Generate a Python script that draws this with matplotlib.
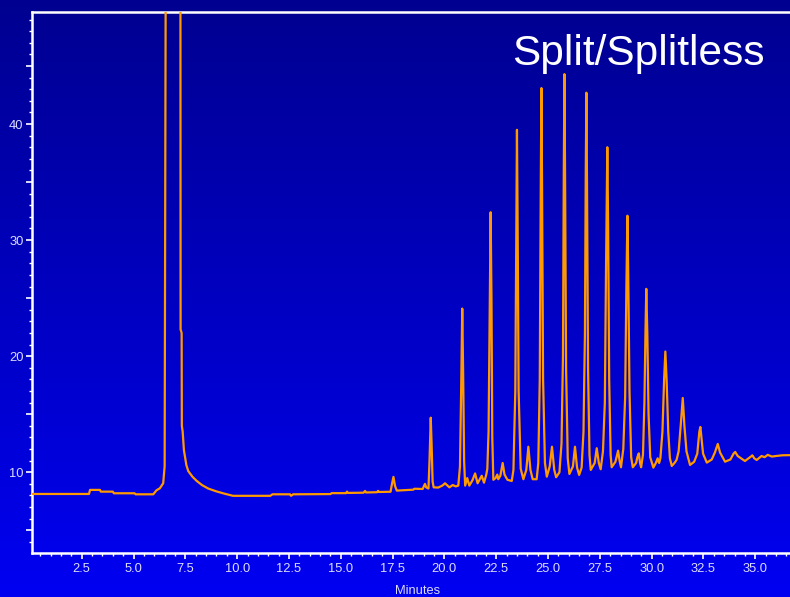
import matplotlib
matplotlib.use("Agg")
import matplotlib.pyplot as plt
from matplotlib.ticker import MultipleLocator, FuncFormatter
from matplotlib.colors import LinearSegmentedColormap
import numpy as np

# chromatogram trace (retention time in minutes, detector signal)
minutes = [
    0.1, 2.85, 2.9, 3.38, 3.42, 4.0, 4.05, 5.05, 5.1, 5.95, 6.11, 6.27, 6.43, 6.5, 6.56,
    7.26, 7.27, 7.32, 7.33, 7.37, 7.43, 7.55, 7.64, 7.85, 8.05, 8.3, 8.6, 9.0, 9.4, 9.8,
    11.6, 11.7, 12.55, 12.6, 12.7, 14.5, 14.56, 15.25, 15.3, 15.35, 16.1, 16.17, 16.22,
    16.75, 16.8, 16.85, 17.4, 17.47, 17.54, 17.62, 17.7, 18.5, 18.55, 18.95, 19.06, 19.12,
    19.23, 19.28, 19.34, 19.38, 19.43, 19.48, 19.7, 19.9, 20.03, 20.15, 20.24, 20.4, 20.55,
    20.67, 20.75, 20.81, 20.86, 20.9, 20.95, 21.0, 21.1, 21.2, 21.35, 21.48, 21.6, 21.8,
    21.91, 22.02, 22.07, 22.13, 22.19, 22.23, 22.27, 22.31, 22.36, 22.47, 22.55, 22.6,
    22.7, 22.81, 22.9, 23.04, 23.25, 23.33, 23.42, 23.47, 23.5, 23.53, 23.58, 23.68,
    23.81, 23.95, 24.05, 24.15, 24.26, 24.45, 24.53, 24.6, 24.65, 24.68, 24.71, 24.76,
    24.85, 24.94, 25.08, 25.19, 25.3, 25.39, 25.55, 25.65, 25.72, 25.76, 25.79, 25.82,
    25.87, 25.95, 26.03, 26.2, 26.3, 26.4, 26.5, 26.62, 26.71, 26.78, 26.82, 26.85,
    26.88, 26.93, 27.0, 27.06, 27.25, 27.35, 27.45, 27.54, 27.65, 27.74, 27.8, 27.86,
    27.9, 27.95, 28.02, 28.07, 28.25, 28.33, 28.38, 28.45, 28.52, 28.63, 28.72, 28.78,
    28.83, 28.87, 28.93, 29.01, 29.09, 29.25, 29.31, 29.38, 29.44, 29.49, 29.58, 29.65,
    29.7, 29.74, 29.79, 29.85, 29.93, 30.08, 30.2, 30.29, 30.36, 30.42, 30.52, 30.6,
    30.66, 30.72, 30.8, 30.88, 30.97, 31.1, 31.2, 31.3, 31.4, 31.5, 31.58, 31.68, 31.85,
    32.05, 32.2, 32.3, 32.35, 32.4, 32.48, 32.66, 32.9, 33.05, 33.19, 33.3, 33.54, 33.8,
    33.95, 34.03, 34.15, 34.5, 34.75, 34.86, 34.95, 35.07, 35.3, 35.45, 35.6, 35.8, 36.0,
    36.3, 37.4,
]
signal = [
    8.13, 8.13, 8.48, 8.48, 8.33, 8.33, 8.19, 8.19, 8.1, 8.1, 8.45, 8.62, 9.05, 10.5, 60,
    60, 22.3, 22.0, 14.0, 13.5, 11.9, 10.6, 10.1, 9.6, 9.25, 8.9, 8.6, 8.35, 8.15, 7.97,
    7.97, 8.1, 8.1, 7.97, 8.1, 8.12, 8.2, 8.2, 8.33, 8.22, 8.24, 8.39, 8.26,
    8.28, 8.4, 8.3, 8.32, 9.0, 9.6, 8.8, 8.42, 8.5, 8.58, 8.56, 9.0, 8.7,
    8.6, 11.0, 14.7, 12.5, 9.2, 8.7, 8.68, 8.85, 9.05, 8.85, 8.7, 8.9, 8.78,
    8.85, 10.5, 17.5, 24.1, 19.0, 11.0, 8.85, 9.5, 8.85, 9.3, 9.9, 9.05, 9.7,
    9.1, 9.8, 10.3, 13.5, 25.0, 32.4, 25.0, 13.0, 9.35, 9.5, 9.8, 9.4,
    9.7, 10.8, 9.8, 9.35, 9.25, 10.2, 17.0, 32.0, 39.5, 32.0, 17.0, 10.3,
    9.4, 10.2, 12.2, 10.2, 9.4, 9.4, 10.8, 18.0, 35.0, 43.1, 35.0, 18.0,
    10.8, 9.62, 10.5, 12.2, 10.2, 9.57, 10.0, 12.5, 20.0, 36.0, 44.3, 36.0,
    19.0, 11.2, 9.85, 10.5, 12.2, 10.4, 9.77, 10.4, 13.5, 22.0, 36.0, 42.7,
    35.0, 19.0, 11.5, 10.2, 10.8, 12.07, 10.8, 10.26, 11.8, 16.0, 28.0, 38.0,
    31.0, 18.0, 11.5, 10.43, 10.9, 11.5, 11.86, 11.0, 10.43, 12.0, 16.5, 26.0,
    32.1, 27.0, 17.0, 11.3, 10.43, 10.8, 11.3, 11.63, 10.8, 10.43, 11.5, 16.0,
    22.0, 25.8, 22.0, 15.0, 11.3, 10.4, 10.8, 11.2, 10.8, 11.2, 13.5, 18.0,
    20.4, 18.0, 13.5, 11.2, 10.54, 10.8, 11.06, 11.8, 14.0, 16.4, 14.0, 11.8, 10.63,
    10.9, 11.6, 13.5, 13.9, 13.0, 11.6, 10.83, 11.1, 11.7, 12.44, 11.7, 10.91, 11.1,
    11.6, 11.75, 11.4, 10.97, 11.3, 11.46, 11.2, 11.06, 11.4, 11.3, 11.5, 11.35, 11.4,
    11.46, 11.5,
]

W, H = 790, 597
fig = plt.figure(figsize=(W / 100, H / 100), dpi=100)

# --- blue gradient background over the whole figure ---
bg = fig.add_axes([0, 0, 1, 1], zorder=-1)
cmap = LinearSegmentedColormap.from_list("bg", ["#000090", "#0000f2"])
bg.imshow(np.linspace(0, 1, 256).reshape(-1, 1), aspect="auto", cmap=cmap,
          extent=[0, 1, 0, 1], origin="upper")
bg.axis("off")

# --- main plot ---
ax = fig.add_axes([32 / W, 1 - 552.7 / H, 772 / W, 540.7 / H])
ax.set_facecolor("none")
ax.plot(minutes, signal, color="#ff9900", linewidth=1.6, zorder=3)

ax.set_xlim(0.1, 37.35)
ax.set_ylim(3.07, 49.65)

for side in ["left", "top", "bottom"]:
    ax.spines[side].set_color("white")
    ax.spines[side].set_linewidth(1.8)
ax.spines["right"].set_visible(False)

tick_color = "#dcdcff"
ax.xaxis.set_major_locator(MultipleLocator(2.5))
ax.xaxis.set_minor_locator(MultipleLocator(0.5))
ax.xaxis.set_major_formatter(FuncFormatter(lambda v, p: f"{v:.1f}"))
ax.yaxis.set_major_locator(MultipleLocator(5))
ax.yaxis.set_minor_locator(MultipleLocator(1))
ax.yaxis.set_major_formatter(FuncFormatter(lambda v, p: f"{v:.0f}" if round(v) % 10 == 0 else ""))

ax.tick_params(which="major", colors="white", length=4, width=1.2,
               labelcolor=tick_color, labelsize=9.3)
ax.tick_params(which="minor", colors="white", length=2.2, width=1.0)
ax.tick_params(axis="x", which="major", pad=3.5)
ax.tick_params(axis="y", which="major", pad=2)
for lab in ax.get_xticklabels() + ax.get_yticklabels():
    lab.set_family("Liberation Sans")

ax.set_xlabel("Minutes", color=tick_color, fontsize=9.3, family="Liberation Sans", labelpad=7)

ax.text(765 / W, 1 - 65 / H, "Split/Splitless", transform=fig.transFigure,
        ha="right", va="baseline", color="white", fontsize=30.5, family="Liberation Sans")

fig.savefig("out.png", dpi=100)
